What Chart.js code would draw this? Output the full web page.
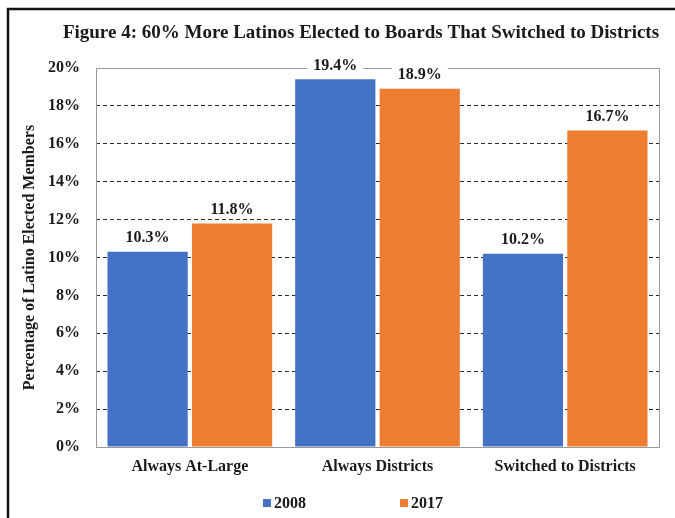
<!DOCTYPE html>
<html>
<head>
<meta charset="utf-8">
<script src="https://cdn.jsdelivr.net/npm/chart.js@4/dist/chart.umd.min.js"></script>
<style>
  html, body { margin: 0; padding: 0; background: #fff; }
  #wrap { width: 675px; height: 518px; }
</style>
</head>
<body>
<div id="wrap"><canvas id="c" width="675" height="518"></canvas></div>
<script>
// Share of board members who are Latino, by election system
const categories = ['Always At-Large', 'Always Districts', 'Switched to Districts'];
const seriesNames = ['2008', '2017'];
const values2008 = [10.3, 19.4, 10.2];
const values2017 = [11.8, 18.9, 16.7];
const yTicks = [0, 2, 4, 6, 8, 10, 12, 14, 16, 18, 20];
const titleText = 'Figure 4: 60% More Latinos Elected to Boards That Switched to Districts';
const yTitle = 'Percentage of Latino Elected Members';

const BLUE = '#4472C4';
const ORANGE = '#ED7D31';
const FONT = "'Liberation Serif', 'Times New Roman', serif";

Chart.defaults.font.family = FONT;
Chart.defaults.font.weight = 'bold';
Chart.defaults.color = '#1a1a1a';

// Page frame, title, plot box, value labels and legend
const decor = {
  id: 'decor',
  beforeDraw(chart) {
    const ctx = chart.ctx;
    ctx.save();
    ctx.fillStyle = '#fff';
    ctx.fillRect(0, 0, chart.width, chart.height);
    ctx.strokeStyle = '#111';
    ctx.lineWidth = 2.5;
    ctx.beginPath();
    ctx.moveTo(8, chart.height);
    ctx.lineTo(8, 9);
    ctx.lineTo(chart.width, 9);
    ctx.stroke();
    ctx.restore();
  },
  afterDatasetsDraw(chart) {
    const ctx = chart.ctx;
    const a = chart.chartArea;
    ctx.save();
    // plot box
    ctx.strokeStyle = '#9a9a9a';
    ctx.lineWidth = 1;
    ctx.strokeRect(Math.round(a.left) + 0.5, Math.round(a.top) + 0.5,
                   Math.round(a.right - a.left), Math.round(a.bottom - a.top));

    // value labels above bars
    ctx.font = 'bold 16px ' + FONT;
    ctx.textAlign = 'center';
    ctx.textBaseline = 'middle';
    chart.data.datasets.forEach((ds, di) => {
      chart.getDatasetMeta(di).data.forEach((bar, i) => {
        const txt = ds.data[i].toFixed(1) + '%';
        const y = bar.y - 14;
        const w = ctx.measureText(txt).width;
        ctx.fillStyle = '#fff';
        ctx.fillRect(bar.x - w / 2 - 6, y - 9, w + 12, 18);
        ctx.fillStyle = '#1a1a1a';
        ctx.fillText(txt, bar.x, y);
      });
    });

    // title
    ctx.font = 'bold 19px ' + FONT;
    ctx.fillStyle = '#1a1a1a';
    ctx.fillText(titleText, 361, 33);

    // legend
    const legendX = [263, 400];
    ctx.font = 'bold 16px ' + FONT;
    ctx.textAlign = 'left';
    chart.data.datasets.forEach((ds, di) => {
      const x = legendX[di];
      ctx.fillStyle = ds.backgroundColor;
      ctx.fillRect(x, 499, 8, 8);
      ctx.fillStyle = '#1a1a1a';
      ctx.fillText(ds.label, x + 11, 503.5);
    });
    ctx.restore();
  }
};

new Chart(document.getElementById('c'), {
  type: 'bar',
  data: {
    labels: categories,
    datasets: [
      { label: seriesNames[0], data: values2008, backgroundColor: BLUE },
      { label: seriesNames[1], data: values2017, backgroundColor: ORANGE }
    ]
  },
  options: {
    responsive: false,
    animation: false,
    devicePixelRatio: 1,
    layout: { padding: { left: 10, top: 68, right: 16, bottom: 0 } },
    datasets: { bar: { categoryPercentage: 0.9, barPercentage: 0.95 } },
    plugins: {
      legend: { display: false },
      title: { display: false },
      tooltip: { enabled: false }
    },
    scales: {
      x: {
        grid: { display: false, drawTicks: false },
        border: { display: false },
        ticks: { padding: 10, font: { size: 16, weight: 'bold' }, color: '#1a1a1a' },
        afterFit(scale) { scale.height = 71; }
      },
      y: {
        min: 0,
        max: 20,
        afterBuildTicks(scale) { scale.ticks = yTicks.map(v => ({ value: v })); },
        grid: {
          drawTicks: false,
          color: ctx => (ctx.tick && (ctx.tick.value === 0 || ctx.tick.value === 20)) ? 'rgba(0,0,0,0)' : '#2b2b2b',
          lineWidth: 1
        },
        border: { display: false, dash: [4, 3] },
        ticks: {
          padding: 16,
          font: { size: 16, weight: 'bold' },
          color: '#1a1a1a',
          callback: v => v + '%'
        },
        title: {
          display: true,
          text: yTitle,
          font: { size: 16, weight: 'bold' },
          color: '#1a1a1a',
          padding: { top: 10, bottom: 0 }
        },
        afterFit(scale) { scale.width = 86; }
      }
    }
  },
  plugins: [decor]
});
</script>
</body>
</html>
